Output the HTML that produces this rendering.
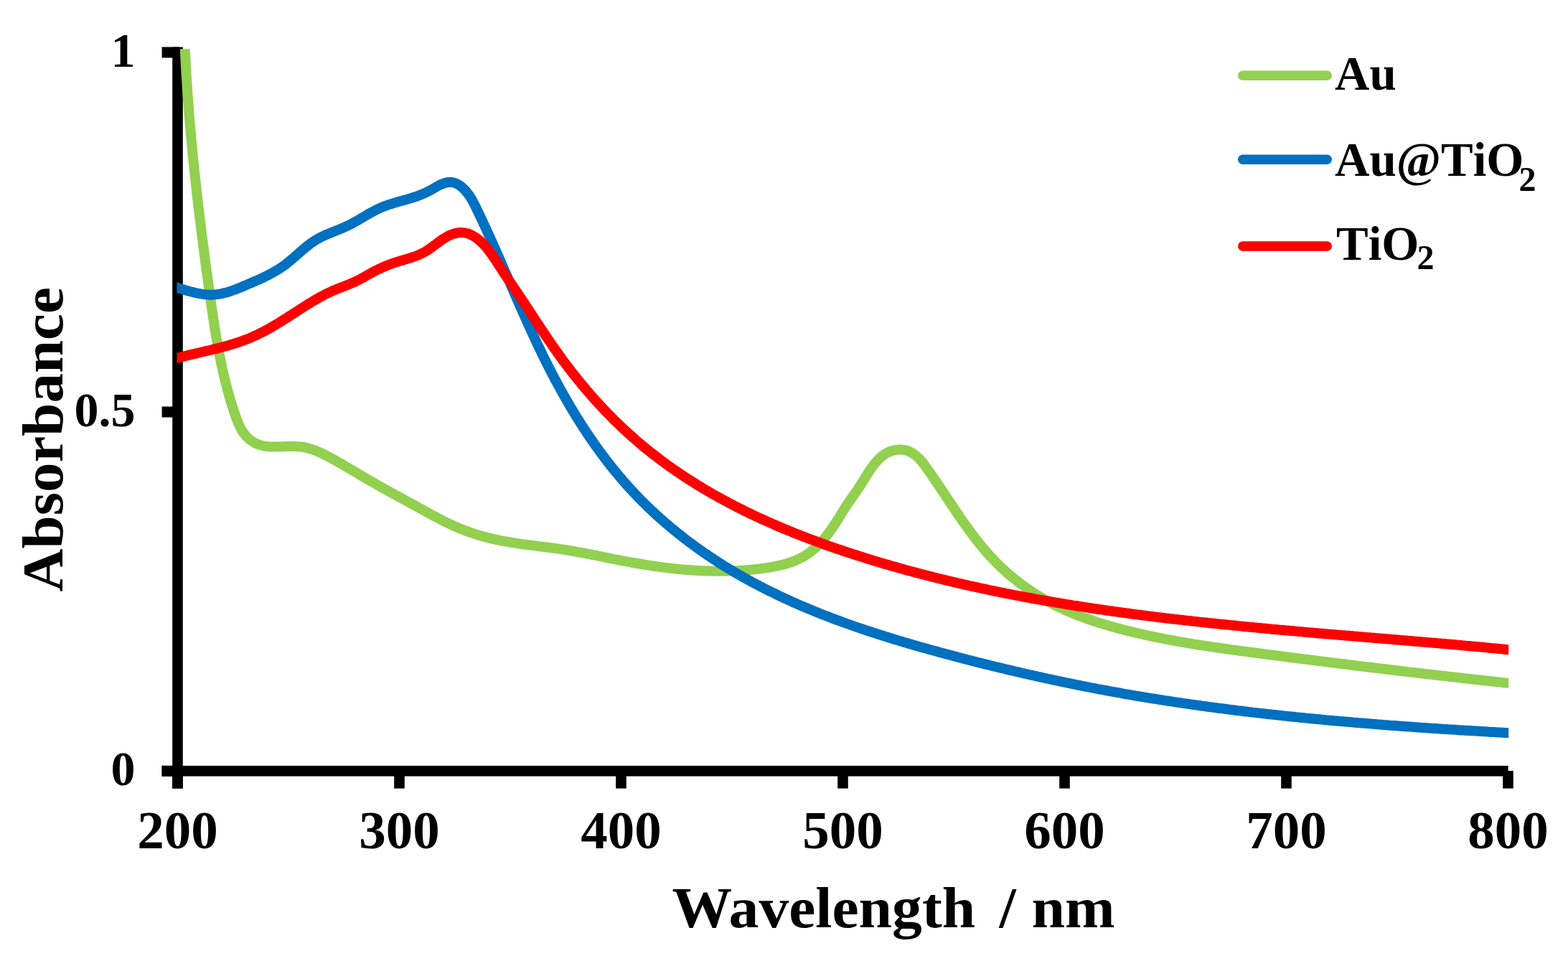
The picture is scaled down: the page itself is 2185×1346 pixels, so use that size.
<!DOCTYPE html>
<html><head><meta charset="utf-8"><title>Absorbance vs Wavelength</title>
<style>
html,body{margin:0;padding:0;background:#fff;}
body{width:2185px;height:1346px;overflow:hidden;}
svg{display:block;}
text{font-family:"Liberation Serif",serif;font-weight:bold;fill:#000;font-kerning:none;}
</style></head><body>
<svg width="2185" height="1346" viewBox="0 0 2185 1346">
<defs><clipPath id="pb"><rect x="246.4" y="68.2" width="1855.8" height="1010"/></clipPath></defs>
<rect width="2185" height="1346" fill="#fff"/>
<g>
<rect x="240.2" y="65.6" width="14.6" height="1033" fill="#000"/>
<rect x="225.6" y="1067" width="1876" height="14.6" fill="#000"/>
<rect x="225.6" y="65.5" width="24" height="15" fill="#000"/><rect x="225.6" y="566.5" width="24" height="15" fill="#000"/><rect x="225.6" y="1066.8" width="24" height="15" fill="#000"/>
<rect x="240.2" y="1074" width="14.6" height="24.6" fill="#000"/><rect x="549.2" y="1074" width="14.6" height="24.6" fill="#000"/><rect x="858.2" y="1074" width="14.6" height="24.6" fill="#000"/><rect x="1167.2" y="1074" width="14.6" height="24.6" fill="#000"/><rect x="1476.2" y="1074" width="14.6" height="24.6" fill="#000"/><rect x="1785.2" y="1074" width="14.6" height="24.6" fill="#000"/><rect x="2094.2" y="1074" width="14.6" height="24.6" fill="#000"/>
</g>
<g fill="none" stroke-linejoin="round" stroke-linecap="butt" clip-path="url(#pb)">
<path d="M256.3,30.0 L256.4,33.0 L256.5,36.0 L256.6,39.0 L256.7,42.0 L256.8,45.0 L256.9,48.0 L257.0,51.0 L257.1,54.0 L257.3,57.0 L257.4,60.0 L257.5,63.0 L257.7,66.0 L257.8,68.9 L257.9,71.9 L258.1,74.9 L258.2,77.9 L258.4,80.9 L258.5,83.9 L258.7,86.9 L258.9,89.9 L259.0,92.9 L259.2,95.9 L259.4,98.9 L259.5,101.9 L259.7,104.9 L259.9,107.9 L260.1,110.9 L260.3,113.8 L260.5,116.8 L260.7,119.8 L260.9,122.8 L261.1,125.8 L261.3,128.8 L261.5,131.8 L261.7,134.8 L261.9,137.8 L262.2,140.8 L262.4,143.8 L262.6,146.8 L262.8,149.8 L263.1,152.7 L263.3,155.7 L263.5,158.7 L263.8,161.7 L264.0,164.7 L264.3,167.7 L264.5,170.7 L264.8,173.7 L265.0,176.7 L265.3,179.7 L265.6,182.7 L265.8,185.7 L266.1,188.6 L266.4,191.6 L266.6,194.6 L266.9,197.6 L267.2,200.6 L267.5,203.6 L267.8,206.6 L268.1,209.6 L268.3,212.6 L268.6,215.5 L268.9,218.5 L269.2,221.5 L269.5,224.5 L269.8,227.5 L270.1,230.5 L270.4,233.5 L270.8,236.5 L271.1,239.4 L271.4,242.4 L271.7,245.4 L272.0,248.4 L272.3,251.4 L272.7,254.4 L273.0,257.4 L273.3,260.3 L273.7,263.3 L274.0,266.3 L274.3,269.3 L274.7,272.3 L275.0,275.3 L275.4,278.3 L275.7,281.2 L276.0,284.2 L276.4,287.2 L276.8,290.2 L277.1,293.2 L277.5,296.1 L277.8,299.1 L278.2,302.1 L278.5,305.1 L278.9,308.1 L279.3,311.0 L279.6,314.0 L280.0,317.0 L280.4,320.0 L280.7,323.0 L281.1,325.9 L281.5,328.9 L281.9,331.9 L282.3,334.9 L282.6,337.8 L283.0,340.8 L283.4,343.8 L283.8,346.8 L284.2,349.7 L284.6,352.7 L285.0,355.7 L285.4,358.7 L285.7,361.6 L286.1,364.6 L286.5,367.6 L286.9,370.6 L287.3,373.5 L287.7,376.5 L288.1,379.5 L288.6,382.4 L289.0,385.4 L289.4,388.4 L289.8,391.3 L290.2,394.3 L290.6,397.3 L291.0,400.3 L291.4,403.2 L291.8,406.2 L292.2,409.2 L292.7,412.1 L293.1,415.1 L293.5,418.0 L293.9,421.0 L294.3,424.0 L294.8,426.9 L295.2,429.9 L295.6,432.9 L296.1,435.8 L296.5,438.8 L296.9,441.7 L297.4,444.7 L297.8,447.6 L298.3,450.6 L298.7,453.6 L299.2,456.5 L299.7,459.5 L300.2,462.4 L300.6,465.4 L301.1,468.3 L301.6,471.3 L302.1,474.2 L302.7,477.2 L303.2,480.1 L303.7,483.1 L304.2,486.0 L304.8,489.0 L305.4,491.9 L305.9,494.8 L306.5,497.8 L307.1,500.7 L307.7,503.7 L308.3,506.6 L308.9,509.5 L309.6,512.5 L310.2,515.4 L310.9,518.3 L311.5,521.2 L312.2,524.2 L312.9,527.1 L313.6,530.0 L314.4,533.0 L315.1,535.9 L315.9,538.8 L316.6,541.7 L317.4,544.6 L318.2,547.5 L319.0,550.5 L319.9,553.4 L320.7,556.3 L321.6,559.2 L322.5,562.1 L323.4,565.0 L324.3,567.9 L325.3,570.8 L326.2,573.7 L327.2,576.6 L328.2,579.5 L329.2,582.4 L330.3,585.2 L331.4,588.1 L332.6,590.8 L333.9,593.6 L335.2,596.3 L336.6,598.8 L338.1,601.4 L339.8,603.8 L341.5,606.1 L343.4,608.3 L345.5,610.3 L347.7,612.2 L350.0,614.0 L352.4,615.6 L354.9,617.1 L357.5,618.3 L360.2,619.4 L363.0,620.3 L365.8,621.0 L368.8,621.6 L371.7,622.0 L374.7,622.2 L377.8,622.4 L380.9,622.5 L383.9,622.5 L387.0,622.4 L390.1,622.4 L393.2,622.3 L396.3,622.2 L399.3,622.1 L402.4,622.0 L405.4,622.0 L408.4,622.0 L411.4,622.1 L414.4,622.2 L417.3,622.4 L420.3,622.7 L423.2,623.2 L426.1,623.7 L428.9,624.4 L431.8,625.2 L434.6,626.0 L437.4,627.0 L440.2,628.1 L443.0,629.2 L445.7,630.4 L448.5,631.7 L451.2,633.0 L453.9,634.4 L456.6,635.8 L459.2,637.2 L461.9,638.6 L464.6,640.0 L467.2,641.5 L469.8,643.0 L472.4,644.5 L475.1,645.9 L477.7,647.4 L480.3,649.0 L482.8,650.5 L485.4,652.0 L488.0,653.5 L490.6,655.0 L493.2,656.6 L495.7,658.1 L498.3,659.6 L500.9,661.2 L503.4,662.7 L506.0,664.2 L508.6,665.7 L511.2,667.3 L513.8,668.8 L516.4,670.3 L519.0,671.7 L521.6,673.2 L524.2,674.7 L526.8,676.2 L529.4,677.6 L532.0,679.1 L534.6,680.6 L537.2,682.0 L539.9,683.5 L542.5,684.9 L545.1,686.3 L547.8,687.8 L550.4,689.2 L553.0,690.7 L555.7,692.1 L558.3,693.5 L560.9,695.0 L563.6,696.4 L566.2,697.8 L568.9,699.3 L571.5,700.7 L574.1,702.2 L576.8,703.6 L579.4,705.1 L582.0,706.5 L584.6,708.0 L587.3,709.4 L589.9,710.9 L592.5,712.3 L595.2,713.8 L597.8,715.2 L600.4,716.7 L603.1,718.1 L605.7,719.5 L608.4,720.9 L611.0,722.3 L613.7,723.7 L616.4,725.1 L619.0,726.4 L621.7,727.7 L624.4,729.0 L627.1,730.3 L629.8,731.6 L632.5,732.8 L635.3,734.0 L638.0,735.2 L640.8,736.4 L643.5,737.5 L646.3,738.6 L649.1,739.7 L651.9,740.7 L654.8,741.7 L657.6,742.7 L660.4,743.6 L663.3,744.5 L666.2,745.4 L669.0,746.2 L671.9,747.1 L674.8,747.9 L677.7,748.6 L680.7,749.4 L683.6,750.1 L686.5,750.8 L689.5,751.4 L692.4,752.1 L695.3,752.7 L698.3,753.3 L701.2,753.9 L704.2,754.4 L707.2,755.0 L710.1,755.5 L713.1,756.0 L716.1,756.4 L719.0,756.9 L722.0,757.3 L725.0,757.8 L727.9,758.2 L730.9,758.6 L733.9,759.0 L736.9,759.4 L739.8,759.8 L742.8,760.1 L745.8,760.5 L748.7,760.9 L751.7,761.2 L754.7,761.6 L757.6,762.0 L760.6,762.3 L763.6,762.7 L766.6,763.1 L769.5,763.5 L772.5,763.9 L775.4,764.3 L778.4,764.7 L781.4,765.1 L784.3,765.6 L787.3,766.0 L790.2,766.5 L793.2,767.0 L796.1,767.5 L799.1,768.0 L802.1,768.5 L805.0,769.1 L807.9,769.6 L810.9,770.2 L813.8,770.7 L816.8,771.3 L819.7,771.9 L822.7,772.5 L825.6,773.0 L828.6,773.6 L831.5,774.2 L834.5,774.8 L837.4,775.4 L840.3,776.0 L843.3,776.6 L846.2,777.2 L849.2,777.8 L852.1,778.4 L855.1,779.0 L858.0,779.6 L861.0,780.1 L863.9,780.7 L866.9,781.3 L869.8,781.8 L872.8,782.4 L875.7,782.9 L878.7,783.5 L881.7,784.0 L884.6,784.5 L887.6,785.0 L890.5,785.5 L893.5,786.0 L896.5,786.5 L899.4,787.0 L902.4,787.4 L905.4,787.9 L908.3,788.3 L911.3,788.8 L914.3,789.2 L917.2,789.6 L920.2,790.0 L923.2,790.4 L926.2,790.8 L929.1,791.1 L932.1,791.5 L935.1,791.8 L938.1,792.2 L941.0,792.5 L944.0,792.8 L947.0,793.1 L950.0,793.4 L953.0,793.6 L956.0,793.9 L958.9,794.1 L961.9,794.3 L964.9,794.5 L967.9,794.7 L970.9,794.9 L973.9,795.1 L976.9,795.2 L979.9,795.3 L982.8,795.5 L985.8,795.6 L988.8,795.6 L991.8,795.7 L994.8,795.8 L997.8,795.8 L1000.8,795.8 L1003.8,795.8 L1006.8,795.8 L1009.8,795.8 L1012.8,795.7 L1015.8,795.6 L1018.8,795.5 L1021.8,795.4 L1024.8,795.3 L1027.8,795.2 L1030.8,795.0 L1033.8,794.8 L1036.8,794.6 L1039.8,794.4 L1042.8,794.1 L1045.8,793.9 L1048.8,793.6 L1051.8,793.3 L1054.8,792.9 L1057.8,792.6 L1060.8,792.2 L1063.8,791.8 L1066.8,791.4 L1069.8,790.9 L1072.8,790.5 L1075.8,790.0 L1078.8,789.4 L1081.8,788.8 L1084.7,788.2 L1087.7,787.6 L1090.6,786.8 L1093.5,786.1 L1096.4,785.3 L1099.2,784.4 L1102.0,783.4 L1104.8,782.4 L1107.6,781.4 L1110.3,780.2 L1113.0,779.0 L1115.7,777.7 L1118.3,776.3 L1120.8,774.9 L1123.3,773.3 L1125.8,771.7 L1128.2,770.0 L1130.6,768.1 L1132.9,766.3 L1135.2,764.3 L1137.4,762.3 L1139.6,760.2 L1141.7,758.1 L1143.8,755.9 L1145.9,753.7 L1147.9,751.4 L1149.8,749.1 L1151.7,746.7 L1153.5,744.3 L1155.4,741.9 L1157.1,739.5 L1158.8,737.0 L1160.5,734.5 L1162.2,732.0 L1163.9,729.5 L1165.5,727.0 L1167.1,724.4 L1168.7,721.9 L1170.3,719.4 L1171.8,716.8 L1173.4,714.3 L1175.0,711.7 L1176.6,709.2 L1178.2,706.7 L1179.8,704.1 L1181.5,701.6 L1183.2,699.2 L1184.9,696.7 L1186.6,694.2 L1188.3,691.8 L1190.0,689.3 L1191.8,686.9 L1193.5,684.4 L1195.2,682.0 L1196.8,679.5 L1198.5,677.0 L1200.1,674.5 L1201.7,671.9 L1203.2,669.4 L1204.8,666.9 L1206.3,664.3 L1207.9,661.8 L1209.5,659.3 L1211.2,656.8 L1212.8,654.3 L1214.6,651.8 L1216.3,649.3 L1218.2,646.9 L1220.1,644.5 L1222.2,642.2 L1224.3,640.0 L1226.4,637.9 L1228.7,635.9 L1231.1,634.0 L1233.6,632.4 L1236.2,630.9 L1239.0,629.6 L1241.8,628.5 L1244.8,627.6 L1247.8,627.0 L1250.9,626.6 L1253.9,626.5 L1257.0,626.6 L1259.9,626.9 L1262.7,627.5 L1265.4,628.4 L1268.0,629.5 L1270.4,630.7 L1272.8,632.2 L1275.1,633.9 L1277.3,635.7 L1279.4,637.7 L1281.5,639.8 L1283.5,642.0 L1285.4,644.3 L1287.3,646.7 L1289.1,649.1 L1290.9,651.6 L1292.7,654.1 L1294.5,656.6 L1296.3,659.1 L1298.0,661.7 L1299.8,664.2 L1301.5,666.7 L1303.2,669.3 L1304.9,671.8 L1306.6,674.3 L1308.3,676.8 L1310.0,679.4 L1311.7,681.9 L1313.4,684.4 L1315.1,687.0 L1316.8,689.5 L1318.4,692.0 L1320.1,694.5 L1321.8,697.0 L1323.4,699.5 L1325.1,702.0 L1326.8,704.5 L1328.5,707.0 L1330.1,709.5 L1331.8,712.0 L1333.5,714.5 L1335.2,717.0 L1336.8,719.4 L1338.5,721.9 L1340.2,724.3 L1341.9,726.8 L1343.6,729.2 L1345.4,731.6 L1347.1,734.1 L1348.8,736.5 L1350.6,738.9 L1352.3,741.3 L1354.1,743.6 L1355.9,746.0 L1357.7,748.3 L1359.5,750.7 L1361.3,753.0 L1363.1,755.3 L1365.0,757.6 L1366.8,759.9 L1368.7,762.2 L1370.6,764.5 L1372.5,766.7 L1374.5,769.0 L1376.4,771.2 L1378.4,773.4 L1380.4,775.6 L1382.4,777.8 L1384.5,779.9 L1386.5,782.1 L1388.6,784.2 L1390.7,786.3 L1392.9,788.4 L1395.0,790.5 L1397.2,792.5 L1399.4,794.5 L1401.7,796.6 L1403.9,798.5 L1406.2,800.5 L1408.5,802.5 L1410.8,804.4 L1413.2,806.3 L1415.5,808.2 L1417.9,810.1 L1420.3,811.9 L1422.7,813.8 L1425.2,815.6 L1427.7,817.4 L1430.1,819.1 L1432.6,820.9 L1435.1,822.6 L1437.7,824.3 L1440.2,826.0 L1442.8,827.6 L1445.3,829.2 L1447.9,830.8 L1450.5,832.4 L1453.1,833.9 L1455.8,835.5 L1458.4,837.0 L1461.0,838.4 L1463.7,839.9 L1466.4,841.3 L1469.1,842.7 L1471.8,844.1 L1474.5,845.4 L1477.2,846.7 L1479.9,848.0 L1482.6,849.3 L1485.4,850.5 L1488.1,851.7 L1490.9,852.9 L1493.6,854.1 L1496.4,855.2 L1499.2,856.3 L1501.9,857.4 L1504.7,858.5 L1507.5,859.5 L1510.3,860.6 L1513.1,861.6 L1516.0,862.6 L1518.8,863.6 L1521.6,864.5 L1524.4,865.5 L1527.3,866.4 L1530.1,867.3 L1533.0,868.2 L1535.8,869.1 L1538.7,869.9 L1541.5,870.8 L1544.4,871.6 L1547.3,872.4 L1550.1,873.3 L1553.0,874.1 L1555.9,874.9 L1558.8,875.6 L1561.6,876.4 L1564.5,877.2 L1567.4,877.9 L1570.3,878.6 L1573.2,879.4 L1576.1,880.1 L1579.0,880.8 L1581.9,881.5 L1584.8,882.2 L1587.7,882.9 L1590.7,883.5 L1593.6,884.2 L1596.5,884.8 L1599.4,885.5 L1602.4,886.1 L1605.3,886.7 L1608.2,887.3 L1611.1,887.9 L1614.1,888.5 L1617.0,889.1 L1620.0,889.7 L1622.9,890.3 L1625.9,890.8 L1628.8,891.4 L1631.7,891.9 L1634.7,892.5 L1637.7,893.0 L1640.6,893.6 L1643.6,894.1 L1646.5,894.6 L1649.5,895.1 L1652.4,895.6 L1655.4,896.1 L1658.4,896.6 L1661.3,897.1 L1664.3,897.6 L1667.3,898.0 L1670.2,898.5 L1673.2,899.0 L1676.2,899.4 L1679.2,899.9 L1682.1,900.3 L1685.1,900.8 L1688.1,901.2 L1691.1,901.7 L1694.0,902.1 L1697.0,902.5 L1700.0,903.0 L1703.0,903.4 L1706.0,903.8 L1708.9,904.2 L1711.9,904.6 L1714.9,905.1 L1717.9,905.5 L1720.9,905.9 L1723.9,906.3 L1726.8,906.7 L1729.8,907.1 L1732.8,907.5 L1735.8,907.9 L1738.8,908.3 L1741.8,908.7 L1744.7,909.0 L1747.7,909.4 L1750.7,909.8 L1753.7,910.2 L1756.7,910.6 L1759.6,911.0 L1762.6,911.4 L1765.6,911.8 L1768.6,912.2 L1771.6,912.5 L1774.5,912.9 L1777.5,913.3 L1780.5,913.7 L1783.5,914.1 L1786.5,914.5 L1789.4,914.8 L1792.4,915.2 L1795.4,915.6 L1798.4,916.0 L1801.4,916.4 L1804.3,916.8 L1807.3,917.1 L1810.3,917.5 L1813.3,917.9 L1816.2,918.3 L1819.2,918.6 L1822.2,919.0 L1825.2,919.4 L1828.1,919.8 L1831.1,920.1 L1834.1,920.5 L1837.1,920.9 L1840.0,921.3 L1843.0,921.6 L1846.0,922.0 L1849.0,922.4 L1851.9,922.8 L1854.9,923.1 L1857.9,923.5 L1860.9,923.9 L1863.8,924.2 L1866.8,924.6 L1869.8,925.0 L1872.7,925.3 L1875.7,925.7 L1878.7,926.1 L1881.7,926.4 L1884.6,926.8 L1887.6,927.2 L1890.6,927.5 L1893.6,927.9 L1896.5,928.2 L1899.5,928.6 L1902.5,929.0 L1905.5,929.3 L1908.4,929.7 L1911.4,930.0 L1914.4,930.4 L1917.3,930.8 L1920.3,931.1 L1923.3,931.5 L1926.3,931.8 L1929.2,932.2 L1932.2,932.5 L1935.2,932.9 L1938.2,933.3 L1941.1,933.6 L1944.1,934.0 L1947.1,934.3 L1950.1,934.7 L1953.0,935.0 L1956.0,935.4 L1959.0,935.7 L1962.0,936.1 L1964.9,936.4 L1967.9,936.8 L1970.9,937.1 L1973.9,937.5 L1976.8,937.8 L1979.8,938.2 L1982.8,938.5 L1985.8,938.9 L1988.7,939.2 L1991.7,939.5 L1994.7,939.9 L1997.7,940.2 L2000.6,940.6 L2003.6,940.9 L2006.6,941.3 L2009.6,941.6 L2012.6,941.9 L2015.5,942.3 L2018.5,942.6 L2021.5,943.0 L2024.5,943.3 L2027.5,943.6 L2030.4,944.0 L2033.4,944.3 L2036.4,944.6 L2039.4,945.0 L2042.4,945.3 L2045.4,945.7 L2048.3,946.0 L2051.3,946.3 L2054.3,946.7 L2057.3,947.0 L2060.3,947.3 L2063.3,947.6 L2066.2,948.0 L2069.2,948.3 L2072.2,948.6 L2075.2,949.0 L2078.2,949.3 L2081.2,949.6 L2084.2,950.0 L2087.2,950.3 L2090.2,950.6 L2093.1,950.9 L2096.1,951.3 L2099.1,951.6 L2102.1,951.9 L2105.1,952.2 L2108.1,952.6 L2111.1,952.9 L2114.1,953.2 L2117.1,953.5 L2120.1,953.9" stroke="#92d050" stroke-width="14"/>
<path d="M230.1,396.0 L232.9,396.7 L235.7,397.5 L238.5,398.2 L241.4,399.1 L244.2,399.9 L247.1,400.8 L250.0,401.7 L252.9,402.6 L255.9,403.5 L258.8,404.4 L261.7,405.2 L264.7,406.1 L267.7,406.8 L270.6,407.6 L273.6,408.3 L276.6,408.9 L279.6,409.4 L282.5,409.9 L285.5,410.3 L288.5,410.5 L291.4,410.7 L294.4,410.7 L297.3,410.6 L300.2,410.4 L303.1,410.1 L306.1,409.6 L309.0,409.1 L311.8,408.4 L314.7,407.7 L317.6,406.9 L320.5,406.0 L323.3,405.0 L326.2,404.0 L329.0,402.9 L331.8,401.8 L334.7,400.7 L337.5,399.5 L340.3,398.3 L343.1,397.1 L345.9,395.9 L348.7,394.7 L351.5,393.5 L354.3,392.3 L357.1,391.1 L359.8,389.9 L362.6,388.7 L365.3,387.4 L368.0,386.1 L370.7,384.8 L373.4,383.5 L376.0,382.1 L378.6,380.7 L381.2,379.3 L383.8,377.8 L386.4,376.3 L388.9,374.7 L391.4,373.1 L393.8,371.4 L396.3,369.7 L398.6,367.9 L401.0,366.0 L403.3,364.1 L405.6,362.2 L407.9,360.2 L410.2,358.2 L412.5,356.2 L414.8,354.2 L417.0,352.2 L419.3,350.2 L421.6,348.2 L423.9,346.3 L426.2,344.4 L428.6,342.5 L430.9,340.7 L433.3,338.9 L435.8,337.2 L438.3,335.5 L440.8,334.0 L443.4,332.5 L446.0,331.1 L448.7,329.8 L451.3,328.5 L454.1,327.3 L456.8,326.1 L459.6,324.9 L462.4,323.8 L465.2,322.7 L468.0,321.6 L470.8,320.4 L473.6,319.3 L476.3,318.2 L479.1,317.0 L481.9,315.7 L484.6,314.5 L487.3,313.1 L490.0,311.7 L492.7,310.3 L495.3,308.8 L498.0,307.3 L500.6,305.8 L503.2,304.3 L505.8,302.7 L508.4,301.2 L511.0,299.6 L513.6,298.1 L516.2,296.6 L518.9,295.2 L521.5,293.8 L524.2,292.4 L526.9,291.1 L529.6,289.8 L532.4,288.7 L535.1,287.6 L537.9,286.5 L540.8,285.5 L543.6,284.6 L546.5,283.7 L549.3,282.8 L552.2,282.0 L555.1,281.1 L558.0,280.3 L560.9,279.5 L563.8,278.7 L566.6,277.9 L569.5,277.1 L572.4,276.2 L575.3,275.3 L578.1,274.4 L580.9,273.5 L583.7,272.4 L586.5,271.4 L589.2,270.2 L592.0,269.0 L594.6,267.8 L597.3,266.4 L600.0,265.0 L602.6,263.5 L605.3,262.0 L608.0,260.4 L610.7,258.9 L613.4,257.5 L616.2,256.3 L619.0,255.3 L621.8,254.5 L624.6,254.0 L627.4,253.8 L630.2,254.0 L632.9,254.7 L635.5,255.6 L638.1,256.9 L640.5,258.4 L642.9,260.2 L645.2,262.1 L647.3,264.2 L649.3,266.4 L651.1,268.7 L652.9,271.0 L654.6,273.5 L656.2,276.0 L657.7,278.6 L659.2,281.2 L660.6,283.9 L662.0,286.6 L663.3,289.3 L664.6,292.1 L666.0,294.8 L667.3,297.5 L668.6,300.3 L669.9,303.0 L671.2,305.8 L672.5,308.5 L673.7,311.3 L675.0,314.0 L676.3,316.8 L677.6,319.5 L678.8,322.3 L680.1,325.0 L681.3,327.8 L682.6,330.5 L683.8,333.3 L685.1,336.0 L686.3,338.8 L687.5,341.5 L688.8,344.3 L690.0,347.0 L691.2,349.8 L692.4,352.6 L693.7,355.3 L694.9,358.1 L696.1,360.8 L697.3,363.6 L698.5,366.3 L699.7,369.1 L700.9,371.9 L702.1,374.6 L703.3,377.4 L704.5,380.1 L705.7,382.9 L706.9,385.6 L708.1,388.4 L709.3,391.1 L710.5,393.9 L711.7,396.6 L712.9,399.4 L714.1,402.2 L715.3,404.9 L716.5,407.7 L717.7,410.4 L718.9,413.2 L720.1,415.9 L721.3,418.6 L722.5,421.4 L723.7,424.1 L724.9,426.9 L726.1,429.6 L727.4,432.4 L728.6,435.1 L729.8,437.8 L731.0,440.6 L732.2,443.3 L733.5,446.0 L734.7,448.8 L735.9,451.5 L737.2,454.2 L738.4,456.9 L739.7,459.7 L740.9,462.4 L742.2,465.1 L743.4,467.8 L744.7,470.5 L745.9,473.3 L747.2,476.0 L748.5,478.7 L749.8,481.4 L751.1,484.1 L752.4,486.8 L753.7,489.5 L755.0,492.2 L756.3,494.9 L757.6,497.6 L758.9,500.3 L760.3,503.0 L761.6,505.6 L763.0,508.3 L764.3,511.0 L765.7,513.7 L767.1,516.3 L768.4,519.0 L769.8,521.7 L771.2,524.3 L772.6,527.0 L774.0,529.7 L775.5,532.3 L776.9,534.9 L778.3,537.6 L779.8,540.2 L781.2,542.9 L782.7,545.5 L784.1,548.1 L785.6,550.7 L787.1,553.3 L788.6,556.0 L790.1,558.6 L791.6,561.2 L793.1,563.8 L794.6,566.4 L796.2,568.9 L797.7,571.5 L799.3,574.1 L800.8,576.7 L802.4,579.2 L804.0,581.8 L805.6,584.3 L807.2,586.9 L808.8,589.4 L810.4,591.9 L812.0,594.5 L813.7,597.0 L815.3,599.5 L817.0,602.0 L818.6,604.5 L820.3,607.0 L822.0,609.5 L823.7,612.0 L825.4,614.4 L827.1,616.9 L828.8,619.4 L830.6,621.8 L832.3,624.2 L834.1,626.7 L835.8,629.1 L837.6,631.5 L839.4,633.9 L841.2,636.3 L843.0,638.7 L844.8,641.1 L846.6,643.5 L848.5,645.8 L850.3,648.2 L852.2,650.5 L854.1,652.9 L856.0,655.2 L857.9,657.5 L859.8,659.8 L861.7,662.1 L863.6,664.4 L865.6,666.7 L867.5,669.0 L869.5,671.3 L871.5,673.5 L873.5,675.8 L875.5,678.0 L877.5,680.2 L879.5,682.4 L881.5,684.6 L883.6,686.8 L885.6,689.0 L887.7,691.2 L889.8,693.3 L891.9,695.5 L894.0,697.6 L896.1,699.7 L898.3,701.9 L900.4,704.0 L902.6,706.1 L904.7,708.1 L906.9,710.2 L909.1,712.3 L911.3,714.3 L913.5,716.4 L915.7,718.4 L918.0,720.4 L920.2,722.4 L922.5,724.4 L924.7,726.4 L927.0,728.4 L929.3,730.3 L931.6,732.3 L933.9,734.2 L936.2,736.2 L938.5,738.1 L940.9,740.0 L943.2,741.9 L945.6,743.8 L947.9,745.6 L950.3,747.5 L952.7,749.4 L955.0,751.2 L957.4,753.0 L959.8,754.8 L962.3,756.6 L964.7,758.4 L967.1,760.2 L969.5,762.0 L972.0,763.8 L974.4,765.5 L976.9,767.2 L979.4,769.0 L981.8,770.7 L984.3,772.4 L986.8,774.1 L989.3,775.8 L991.8,777.4 L994.3,779.1 L996.9,780.7 L999.4,782.4 L1001.9,784.0 L1004.4,785.6 L1007.0,787.2 L1009.5,788.8 L1012.1,790.4 L1014.7,791.9 L1017.2,793.5 L1019.8,795.0 L1022.4,796.6 L1025.0,798.1 L1027.6,799.6 L1030.2,801.1 L1032.8,802.6 L1035.4,804.1 L1038.0,805.5 L1040.6,807.0 L1043.2,808.4 L1045.9,809.9 L1048.5,811.3 L1051.2,812.7 L1053.8,814.1 L1056.5,815.5 L1059.1,816.9 L1061.8,818.3 L1064.5,819.6 L1067.1,821.0 L1069.8,822.3 L1072.5,823.7 L1075.2,825.0 L1077.9,826.3 L1080.6,827.6 L1083.3,828.9 L1086.0,830.2 L1088.7,831.5 L1091.4,832.8 L1094.1,834.0 L1096.8,835.3 L1099.6,836.5 L1102.3,837.8 L1105.0,839.0 L1107.8,840.2 L1110.5,841.4 L1113.3,842.6 L1116.0,843.8 L1118.8,845.0 L1121.5,846.2 L1124.3,847.3 L1127.1,848.5 L1129.8,849.6 L1132.6,850.8 L1135.4,851.9 L1138.2,853.0 L1140.9,854.2 L1143.7,855.3 L1146.5,856.4 L1149.3,857.5 L1152.1,858.5 L1154.9,859.6 L1157.7,860.7 L1160.5,861.8 L1163.3,862.8 L1166.1,863.9 L1169.0,864.9 L1171.8,865.9 L1174.6,867.0 L1177.4,868.0 L1180.2,869.0 L1183.1,870.0 L1185.9,871.0 L1188.7,872.0 L1191.6,873.0 L1194.4,874.0 L1197.3,875.0 L1200.1,875.9 L1202.9,876.9 L1205.8,877.8 L1208.6,878.8 L1211.5,879.7 L1214.4,880.7 L1217.2,881.6 L1220.1,882.5 L1222.9,883.5 L1225.8,884.4 L1228.7,885.3 L1231.5,886.2 L1234.4,887.1 L1237.3,888.0 L1240.1,888.9 L1243.0,889.8 L1245.9,890.7 L1248.8,891.5 L1251.7,892.4 L1254.5,893.3 L1257.4,894.1 L1260.3,895.0 L1263.2,895.8 L1266.1,896.7 L1269.0,897.5 L1271.9,898.4 L1274.7,899.2 L1277.6,900.0 L1280.5,900.9 L1283.4,901.7 L1286.3,902.5 L1289.2,903.3 L1292.1,904.1 L1295.0,904.9 L1297.9,905.7 L1300.8,906.5 L1303.7,907.3 L1306.6,908.1 L1309.5,908.9 L1312.4,909.7 L1315.3,910.5 L1318.3,911.3 L1321.2,912.1 L1324.1,912.8 L1327.0,913.6 L1329.9,914.4 L1332.8,915.1 L1335.7,915.9 L1338.6,916.7 L1341.5,917.4 L1344.4,918.2 L1347.3,918.9 L1350.3,919.7 L1353.2,920.4 L1356.1,921.2 L1359.0,921.9 L1361.9,922.7 L1364.8,923.4 L1367.7,924.1 L1370.7,924.9 L1373.6,925.6 L1376.5,926.3 L1379.4,927.0 L1382.3,927.7 L1385.2,928.5 L1388.2,929.2 L1391.1,929.9 L1394.0,930.6 L1396.9,931.3 L1399.8,932.0 L1402.8,932.7 L1405.7,933.4 L1408.6,934.1 L1411.5,934.8 L1414.5,935.5 L1417.4,936.1 L1420.3,936.8 L1423.2,937.5 L1426.2,938.2 L1429.1,938.8 L1432.0,939.5 L1434.9,940.2 L1437.9,940.8 L1440.8,941.5 L1443.7,942.1 L1446.7,942.8 L1449.6,943.4 L1452.5,944.1 L1455.5,944.7 L1458.4,945.4 L1461.3,946.0 L1464.3,946.6 L1467.2,947.3 L1470.1,947.9 L1473.1,948.5 L1476.0,949.1 L1478.9,949.8 L1481.9,950.4 L1484.8,951.0 L1487.8,951.6 L1490.7,952.2 L1493.6,952.8 L1496.6,953.4 L1499.5,954.0 L1502.5,954.6 L1505.4,955.2 L1508.4,955.8 L1511.3,956.3 L1514.2,956.9 L1517.2,957.5 L1520.1,958.1 L1523.1,958.6 L1526.0,959.2 L1529.0,959.8 L1531.9,960.3 L1534.9,960.9 L1537.8,961.4 L1540.8,962.0 L1543.7,962.5 L1546.7,963.1 L1549.6,963.6 L1552.6,964.2 L1555.5,964.7 L1558.5,965.2 L1561.4,965.7 L1564.4,966.3 L1567.4,966.8 L1570.3,967.3 L1573.3,967.8 L1576.2,968.3 L1579.2,968.8 L1582.1,969.3 L1585.1,969.8 L1588.1,970.3 L1591.0,970.8 L1594.0,971.3 L1596.9,971.8 L1599.9,972.3 L1602.9,972.8 L1605.8,973.3 L1608.8,973.7 L1611.8,974.2 L1614.7,974.7 L1617.7,975.1 L1620.7,975.6 L1623.6,976.1 L1626.6,976.5 L1629.6,977.0 L1632.5,977.4 L1635.5,977.9 L1638.5,978.3 L1641.4,978.8 L1644.4,979.2 L1647.4,979.6 L1650.4,980.1 L1653.3,980.5 L1656.3,980.9 L1659.3,981.4 L1662.2,981.8 L1665.2,982.2 L1668.2,982.6 L1671.2,983.0 L1674.1,983.5 L1677.1,983.9 L1680.1,984.3 L1683.1,984.7 L1686.1,985.1 L1689.0,985.5 L1692.0,985.9 L1695.0,986.3 L1698.0,986.7 L1700.9,987.0 L1703.9,987.4 L1706.9,987.8 L1709.9,988.2 L1712.9,988.6 L1715.8,989.0 L1718.8,989.3 L1721.8,989.7 L1724.8,990.1 L1727.8,990.4 L1730.8,990.8 L1733.7,991.2 L1736.7,991.5 L1739.7,991.9 L1742.7,992.2 L1745.7,992.6 L1748.7,992.9 L1751.6,993.3 L1754.6,993.6 L1757.6,993.9 L1760.6,994.3 L1763.6,994.6 L1766.6,995.0 L1769.6,995.3 L1772.6,995.6 L1775.5,995.9 L1778.5,996.3 L1781.5,996.6 L1784.5,996.9 L1787.5,997.2 L1790.5,997.6 L1793.5,997.9 L1796.5,998.2 L1799.5,998.5 L1802.4,998.8 L1805.4,999.1 L1808.4,999.4 L1811.4,999.7 L1814.4,1000.0 L1817.4,1000.3 L1820.4,1000.6 L1823.4,1000.9 L1826.4,1001.2 L1829.4,1001.5 L1832.4,1001.8 L1835.4,1002.0 L1838.4,1002.3 L1841.3,1002.6 L1844.3,1002.9 L1847.3,1003.2 L1850.3,1003.4 L1853.3,1003.7 L1856.3,1004.0 L1859.3,1004.3 L1862.3,1004.5 L1865.3,1004.8 L1868.3,1005.1 L1871.3,1005.3 L1874.3,1005.6 L1877.3,1005.8 L1880.3,1006.1 L1883.3,1006.3 L1886.3,1006.6 L1889.3,1006.9 L1892.3,1007.1 L1895.3,1007.4 L1898.2,1007.6 L1901.2,1007.8 L1904.2,1008.1 L1907.2,1008.3 L1910.2,1008.6 L1913.2,1008.8 L1916.2,1009.0 L1919.2,1009.3 L1922.2,1009.5 L1925.2,1009.7 L1928.2,1010.0 L1931.2,1010.2 L1934.2,1010.4 L1937.2,1010.7 L1940.2,1010.9 L1943.2,1011.1 L1946.2,1011.3 L1949.2,1011.6 L1952.2,1011.8 L1955.2,1012.0 L1958.2,1012.2 L1961.2,1012.4 L1964.2,1012.6 L1967.2,1012.8 L1970.2,1013.1 L1973.2,1013.3 L1976.2,1013.5 L1979.2,1013.7 L1982.2,1013.9 L1985.2,1014.1 L1988.2,1014.3 L1991.2,1014.5 L1994.2,1014.7 L1997.1,1014.9 L2000.1,1015.1 L2003.1,1015.3 L2006.1,1015.5 L2009.1,1015.7 L2012.1,1015.9 L2015.1,1016.1 L2018.1,1016.3 L2021.1,1016.4 L2024.1,1016.6 L2027.1,1016.8 L2030.1,1017.0 L2033.1,1017.2 L2036.1,1017.4 L2039.1,1017.6 L2042.1,1017.7 L2045.1,1017.9 L2048.1,1018.1 L2051.1,1018.3 L2054.1,1018.5 L2057.1,1018.6 L2060.1,1018.8 L2063.1,1019.0 L2066.1,1019.2 L2069.0,1019.3 L2072.0,1019.5 L2075.0,1019.7 L2078.0,1019.9 L2081.0,1020.0 L2084.0,1020.2 L2087.0,1020.4 L2090.0,1020.5 L2093.0,1020.7 L2096.0,1020.9 L2099.0,1021.0 L2102.0,1021.2 L2105.0,1021.4 L2108.0,1021.5 L2111.0,1021.7 L2113.9,1021.9 L2116.9,1022.0 L2119.9,1022.2" stroke="#0070c0" stroke-width="14"/>
<path d="M230.2,503.7 L233.0,502.9 L235.8,502.0 L238.7,501.2 L241.5,500.4 L244.4,499.6 L247.3,498.8 L250.2,498.0 L253.1,497.3 L256.0,496.6 L258.9,495.9 L261.8,495.1 L264.7,494.4 L267.7,493.7 L270.6,493.1 L273.5,492.4 L276.5,491.7 L279.4,491.0 L282.4,490.3 L285.3,489.6 L288.2,488.9 L291.2,488.2 L294.1,487.5 L297.0,486.8 L300.0,486.1 L302.9,485.4 L305.8,484.6 L308.7,483.9 L311.7,483.1 L314.6,482.3 L317.4,481.5 L320.3,480.6 L323.2,479.8 L326.1,478.9 L328.9,478.0 L331.8,477.1 L334.6,476.1 L337.4,475.1 L340.2,474.1 L343.0,473.0 L345.8,471.9 L348.6,470.8 L351.3,469.6 L354.0,468.4 L356.8,467.2 L359.5,465.9 L362.1,464.6 L364.8,463.2 L367.5,461.9 L370.1,460.5 L372.7,459.0 L375.3,457.6 L377.9,456.1 L380.5,454.6 L383.1,453.1 L385.7,451.5 L388.3,450.0 L390.8,448.4 L393.4,446.8 L395.9,445.2 L398.5,443.6 L401.0,442.0 L403.6,440.3 L406.1,438.7 L408.6,437.1 L411.2,435.4 L413.7,433.8 L416.2,432.2 L418.7,430.5 L421.3,428.9 L423.8,427.3 L426.4,425.7 L428.9,424.1 L431.4,422.5 L434.0,421.0 L436.6,419.4 L439.2,417.9 L441.7,416.4 L444.3,414.9 L447.0,413.5 L449.6,412.1 L452.2,410.7 L454.9,409.3 L457.6,408.0 L460.3,406.8 L463.0,405.5 L465.8,404.3 L468.5,403.2 L471.3,402.1 L474.1,401.0 L476.9,399.9 L479.7,398.8 L482.5,397.7 L485.3,396.6 L488.1,395.4 L490.8,394.3 L493.6,393.1 L496.3,391.8 L499.0,390.5 L501.7,389.1 L504.3,387.7 L506.9,386.3 L509.5,384.8 L512.1,383.3 L514.7,381.8 L517.3,380.4 L519.9,378.9 L522.6,377.5 L525.3,376.2 L528.0,374.9 L530.7,373.6 L533.4,372.4 L536.2,371.2 L538.9,370.0 L541.7,368.9 L544.6,367.9 L547.4,366.9 L550.2,365.9 L553.1,365.0 L555.9,364.1 L558.8,363.2 L561.7,362.4 L564.5,361.5 L567.4,360.7 L570.2,359.8 L573.1,358.9 L575.9,358.0 L578.7,357.0 L581.5,356.0 L584.2,354.8 L586.9,353.6 L589.5,352.3 L592.2,350.9 L594.7,349.3 L597.2,347.7 L599.7,345.9 L602.2,344.1 L604.7,342.3 L607.1,340.5 L609.6,338.6 L612.0,336.8 L614.5,335.0 L617.0,333.3 L619.6,331.7 L622.2,330.1 L624.8,328.7 L627.6,327.4 L630.3,326.4 L633.2,325.4 L636.0,324.7 L638.9,324.3 L641.8,324.0 L644.6,324.1 L647.5,324.4 L650.3,325.0 L653.1,325.8 L655.8,326.9 L658.4,328.2 L661.0,329.7 L663.5,331.4 L665.9,333.2 L668.2,335.1 L670.5,337.1 L672.6,339.2 L674.7,341.4 L676.7,343.6 L678.7,345.9 L680.5,348.3 L682.4,350.7 L684.1,353.1 L685.9,355.5 L687.6,358.0 L689.3,360.5 L691.0,363.0 L692.6,365.6 L694.3,368.1 L695.9,370.7 L697.6,373.2 L699.2,375.7 L700.9,378.2 L702.6,380.8 L704.2,383.3 L705.9,385.8 L707.6,388.3 L709.3,390.8 L710.9,393.3 L712.6,395.8 L714.3,398.3 L716.0,400.8 L717.7,403.3 L719.3,405.8 L721.0,408.3 L722.7,410.8 L724.4,413.3 L726.0,415.8 L727.7,418.3 L729.4,420.8 L731.0,423.3 L732.7,425.8 L734.3,428.3 L736.0,430.8 L737.6,433.2 L739.2,435.7 L740.9,438.2 L742.5,440.7 L744.1,443.2 L745.8,445.7 L747.4,448.2 L749.1,450.7 L750.7,453.1 L752.3,455.6 L754.0,458.1 L755.6,460.6 L757.3,463.0 L758.9,465.5 L760.6,468.0 L762.2,470.4 L763.9,472.9 L765.6,475.4 L767.3,477.8 L768.9,480.3 L770.6,482.7 L772.3,485.2 L774.0,487.6 L775.8,490.0 L777.5,492.5 L779.2,494.9 L781.0,497.3 L782.8,499.8 L784.5,502.2 L786.3,504.6 L788.1,507.0 L789.9,509.4 L791.7,511.8 L793.6,514.2 L795.4,516.5 L797.2,518.9 L799.1,521.3 L801.0,523.7 L802.9,526.0 L804.7,528.4 L806.6,530.7 L808.6,533.0 L810.5,535.4 L812.4,537.7 L814.4,540.0 L816.3,542.3 L818.3,544.6 L820.3,546.9 L822.2,549.2 L824.2,551.5 L826.2,553.8 L828.3,556.0 L830.3,558.3 L832.3,560.5 L834.4,562.7 L836.4,565.0 L838.5,567.2 L840.5,569.4 L842.6,571.6 L844.7,573.8 L846.8,576.0 L848.9,578.1 L851.1,580.3 L853.2,582.4 L855.3,584.6 L857.5,586.7 L859.6,588.8 L861.8,590.9 L864.0,593.0 L866.2,595.1 L868.4,597.2 L870.6,599.2 L872.8,601.3 L875.0,603.3 L877.3,605.3 L879.5,607.3 L881.7,609.3 L884.0,611.3 L886.3,613.3 L888.5,615.3 L890.8,617.2 L893.1,619.1 L895.4,621.1 L897.7,623.0 L900.1,624.9 L902.4,626.8 L904.7,628.7 L907.1,630.5 L909.4,632.4 L911.8,634.2 L914.2,636.0 L916.5,637.9 L918.9,639.7 L921.3,641.5 L923.7,643.2 L926.1,645.0 L928.5,646.8 L931.0,648.5 L933.4,650.3 L935.8,652.0 L938.3,653.7 L940.7,655.4 L943.2,657.1 L945.7,658.8 L948.1,660.4 L950.6,662.1 L953.1,663.8 L955.6,665.4 L958.1,667.0 L960.6,668.6 L963.1,670.2 L965.7,671.8 L968.2,673.4 L970.7,675.0 L973.3,676.6 L975.8,678.1 L978.4,679.7 L980.9,681.2 L983.5,682.7 L986.1,684.2 L988.7,685.7 L991.2,687.2 L993.8,688.7 L996.4,690.2 L999.0,691.6 L1001.7,693.1 L1004.3,694.5 L1006.9,696.0 L1009.5,697.4 L1012.2,698.8 L1014.8,700.2 L1017.4,701.6 L1020.1,703.0 L1022.8,704.4 L1025.4,705.8 L1028.1,707.1 L1030.8,708.5 L1033.4,709.8 L1036.1,711.1 L1038.8,712.5 L1041.5,713.8 L1044.2,715.1 L1046.9,716.4 L1049.6,717.7 L1052.3,719.0 L1055.0,720.2 L1057.7,721.5 L1060.5,722.8 L1063.2,724.0 L1065.9,725.2 L1068.7,726.5 L1071.4,727.7 L1074.2,728.9 L1076.9,730.1 L1079.7,731.3 L1082.4,732.5 L1085.2,733.7 L1087.9,734.8 L1090.7,736.0 L1093.5,737.2 L1096.3,738.3 L1099.0,739.5 L1101.8,740.6 L1104.6,741.7 L1107.4,742.9 L1110.2,744.0 L1113.0,745.1 L1115.8,746.2 L1118.6,747.3 L1121.4,748.3 L1124.2,749.4 L1127.0,750.5 L1129.8,751.6 L1132.7,752.6 L1135.5,753.7 L1138.3,754.7 L1141.1,755.7 L1144.0,756.8 L1146.8,757.8 L1149.6,758.8 L1152.5,759.8 L1155.3,760.8 L1158.1,761.8 L1161.0,762.8 L1163.8,763.8 L1166.7,764.8 L1169.5,765.7 L1172.4,766.7 L1175.2,767.7 L1178.1,768.6 L1180.9,769.6 L1183.8,770.5 L1186.7,771.4 L1189.5,772.4 L1192.4,773.3 L1195.3,774.2 L1198.1,775.1 L1201.0,776.0 L1203.9,776.9 L1206.7,777.8 L1209.6,778.7 L1212.5,779.6 L1215.3,780.5 L1218.2,781.4 L1221.1,782.2 L1224.0,783.1 L1226.9,784.0 L1229.7,784.8 L1232.6,785.7 L1235.5,786.5 L1238.4,787.3 L1241.3,788.2 L1244.1,789.0 L1247.0,789.8 L1249.9,790.6 L1252.8,791.5 L1255.7,792.3 L1258.6,793.1 L1261.5,793.9 L1264.4,794.7 L1267.3,795.5 L1270.2,796.2 L1273.1,797.0 L1276.0,797.8 L1278.9,798.6 L1281.8,799.3 L1284.7,800.1 L1287.6,800.8 L1290.5,801.6 L1293.4,802.3 L1296.3,803.1 L1299.2,803.8 L1302.1,804.5 L1305.0,805.3 L1307.9,806.0 L1310.8,806.7 L1313.7,807.4 L1316.6,808.1 L1319.5,808.8 L1322.5,809.5 L1325.4,810.2 L1328.3,810.9 L1331.2,811.6 L1334.1,812.3 L1337.0,812.9 L1340.0,813.6 L1342.9,814.3 L1345.8,814.9 L1348.7,815.6 L1351.7,816.3 L1354.6,816.9 L1357.5,817.6 L1360.4,818.2 L1363.4,818.8 L1366.3,819.5 L1369.2,820.1 L1372.1,820.7 L1375.1,821.3 L1378.0,822.0 L1380.9,822.6 L1383.9,823.2 L1386.8,823.8 L1389.7,824.4 L1392.7,825.0 L1395.6,825.6 L1398.5,826.2 L1401.5,826.8 L1404.4,827.3 L1407.4,827.9 L1410.3,828.5 L1413.2,829.1 L1416.2,829.6 L1419.1,830.2 L1422.1,830.7 L1425.0,831.3 L1428.0,831.9 L1430.9,832.4 L1433.9,832.9 L1436.8,833.5 L1439.8,834.0 L1442.7,834.6 L1445.7,835.1 L1448.6,835.6 L1451.6,836.1 L1454.5,836.7 L1457.5,837.2 L1460.4,837.7 L1463.4,838.2 L1466.3,838.7 L1469.3,839.2 L1472.2,839.7 L1475.2,840.2 L1478.1,840.7 L1481.1,841.2 L1484.1,841.7 L1487.0,842.1 L1490.0,842.6 L1492.9,843.1 L1495.9,843.6 L1498.9,844.0 L1501.8,844.5 L1504.8,845.0 L1507.8,845.4 L1510.7,845.9 L1513.7,846.3 L1516.7,846.8 L1519.6,847.2 L1522.6,847.7 L1525.6,848.1 L1528.5,848.5 L1531.5,849.0 L1534.5,849.4 L1537.4,849.8 L1540.4,850.3 L1543.4,850.7 L1546.3,851.1 L1549.3,851.5 L1552.3,852.0 L1555.3,852.4 L1558.2,852.8 L1561.2,853.2 L1564.2,853.6 L1567.2,854.0 L1570.1,854.4 L1573.1,854.8 L1576.1,855.2 L1579.1,855.6 L1582.0,856.0 L1585.0,856.4 L1588.0,856.7 L1591.0,857.1 L1593.9,857.5 L1596.9,857.9 L1599.9,858.3 L1602.9,858.6 L1605.9,859.0 L1608.8,859.4 L1611.8,859.7 L1614.8,860.1 L1617.8,860.5 L1620.8,860.8 L1623.8,861.2 L1626.7,861.5 L1629.7,861.9 L1632.7,862.2 L1635.7,862.6 L1638.7,862.9 L1641.7,863.3 L1644.7,863.6 L1647.6,863.9 L1650.6,864.3 L1653.6,864.6 L1656.6,864.9 L1659.6,865.3 L1662.6,865.6 L1665.6,865.9 L1668.5,866.3 L1671.5,866.6 L1674.5,866.9 L1677.5,867.2 L1680.5,867.5 L1683.5,867.9 L1686.5,868.2 L1689.5,868.5 L1692.5,868.8 L1695.5,869.1 L1698.4,869.4 L1701.4,869.7 L1704.4,870.0 L1707.4,870.3 L1710.4,870.6 L1713.4,870.9 L1716.4,871.2 L1719.4,871.5 L1722.4,871.8 L1725.4,872.1 L1728.4,872.4 L1731.4,872.7 L1734.3,873.0 L1737.3,873.3 L1740.3,873.6 L1743.3,873.9 L1746.3,874.1 L1749.3,874.4 L1752.3,874.7 L1755.3,875.0 L1758.3,875.3 L1761.3,875.6 L1764.3,875.8 L1767.3,876.1 L1770.3,876.4 L1773.3,876.7 L1776.3,876.9 L1779.3,877.2 L1782.3,877.5 L1785.3,877.7 L1788.2,878.0 L1791.2,878.3 L1794.2,878.5 L1797.2,878.8 L1800.2,879.1 L1803.2,879.3 L1806.2,879.6 L1809.2,879.9 L1812.2,880.1 L1815.2,880.4 L1818.2,880.7 L1821.2,880.9 L1824.2,881.2 L1827.2,881.4 L1830.2,881.7 L1833.2,881.9 L1836.2,882.2 L1839.2,882.5 L1842.2,882.7 L1845.2,883.0 L1848.2,883.2 L1851.1,883.5 L1854.1,883.7 L1857.1,884.0 L1860.1,884.2 L1863.1,884.5 L1866.1,884.7 L1869.1,885.0 L1872.1,885.2 L1875.1,885.5 L1878.1,885.7 L1881.1,886.0 L1884.1,886.2 L1887.1,886.5 L1890.1,886.7 L1893.1,887.0 L1896.1,887.2 L1899.1,887.5 L1902.0,887.7 L1905.0,888.0 L1908.0,888.2 L1911.0,888.5 L1914.0,888.7 L1917.0,889.0 L1920.0,889.2 L1923.0,889.5 L1926.0,889.7 L1929.0,890.0 L1932.0,890.2 L1935.0,890.5 L1937.9,890.7 L1940.9,891.0 L1943.9,891.2 L1946.9,891.4 L1949.9,891.7 L1952.9,891.9 L1955.9,892.2 L1958.9,892.4 L1961.9,892.7 L1964.9,892.9 L1967.8,893.2 L1970.8,893.5 L1973.8,893.7 L1976.8,894.0 L1979.8,894.2 L1982.8,894.5 L1985.8,894.7 L1988.7,895.0 L1991.7,895.2 L1994.7,895.5 L1997.7,895.7 L2000.7,896.0 L2003.7,896.3 L2006.7,896.5 L2009.6,896.8 L2012.6,897.0 L2015.6,897.3 L2018.6,897.5 L2021.6,897.8 L2024.5,898.1 L2027.5,898.3 L2030.5,898.6 L2033.5,898.9 L2036.5,899.1 L2039.4,899.4 L2042.4,899.7 L2045.4,899.9 L2048.4,900.2 L2051.4,900.5 L2054.3,900.7 L2057.3,901.0 L2060.3,901.3 L2063.3,901.6 L2066.2,901.8 L2069.2,902.1 L2072.2,902.4 L2075.2,902.7 L2078.1,903.0 L2081.1,903.2 L2084.1,903.5 L2087.0,903.8 L2090.0,904.1 L2093.0,904.4 L2096.0,904.7 L2098.9,905.0 L2101.9,905.2 L2104.9,905.5 L2107.8,905.8 L2110.8,906.1 L2113.8,906.4 L2116.7,906.7 L2119.7,907.0" stroke="#ff0000" stroke-width="14"/>
</g>
<g stroke-width="13.6" stroke-linecap="round">
<line x1="1731.8" y1="105.3" x2="1849.2" y2="105.3" stroke="#92d050"/>
<line x1="1731.8" y1="222.2" x2="1849.2" y2="222.2" stroke="#0070c0"/>
<line x1="1731.8" y1="343" x2="1849.2" y2="343" stroke="#ff0000"/>
</g>
<g font-size="67">
<text transform="translate(1860,125.4) scale(1,1.0)">Au</text>
<text transform="translate(1860,244.5) scale(1,1.0)">Au@TiO</text>
<text transform="translate(1862,361.5) scale(1,1.0)">TiO</text>
<text x="2116.5" y="265.5" font-size="48">2</text>
<text x="1974.6" y="375" font-size="48">2</text>
</g>
<g><text x="188.5" y="92.5" text-anchor="end" font-size="68">1</text><text x="188.5" y="593.5" text-anchor="end" font-size="68">0.5</text><text x="188.5" y="1093.8" text-anchor="end" font-size="68">0</text></g>
<g><text x="247.5" y="1182" text-anchor="middle" font-size="75" transform="translate(247.5,1182) scale(1,1) translate(-247.5,-1182)">200</text><text x="556.5" y="1182" text-anchor="middle" font-size="75" transform="translate(556.5,1182) scale(1,1) translate(-556.5,-1182)">300</text><text x="865.5" y="1182" text-anchor="middle" font-size="75" transform="translate(865.5,1182) scale(1,1) translate(-865.5,-1182)">400</text><text x="1174.5" y="1182" text-anchor="middle" font-size="75" transform="translate(1174.5,1182) scale(1,1) translate(-1174.5,-1182)">500</text><text x="1483.5" y="1182" text-anchor="middle" font-size="75" transform="translate(1483.5,1182) scale(1,1) translate(-1483.5,-1182)">600</text><text x="1792.5" y="1182" text-anchor="middle" font-size="75" transform="translate(1792.5,1182) scale(1,1) translate(-1792.5,-1182)">700</text><text x="2101.5" y="1182" text-anchor="middle" font-size="75" transform="translate(2101.5,1182) scale(1,1) translate(-2101.5,-1182)">800</text></g>
<text transform="translate(936.6,1291.8) scale(1,0.955)" font-size="83.6" text-anchor="start" style="font-kerning:normal">Wavelength<tspan x="435"> /</tspan><tspan x="480"> nm</tspan></text>
<text transform="translate(87.2,612.3) rotate(-90) scale(1,0.97)" font-size="83" text-anchor="middle">Absorbance</text>
</svg>
</body></html>
